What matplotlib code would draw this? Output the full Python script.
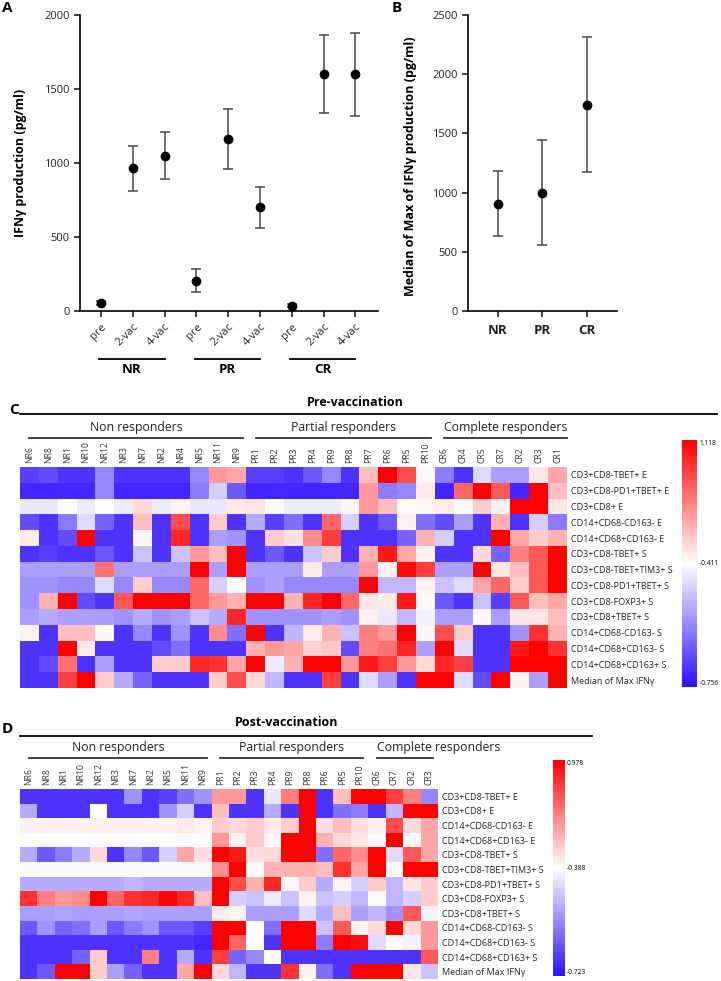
import numpy as np
import matplotlib
matplotlib.use("Agg")
import matplotlib.pyplot as plt
import matplotlib.transforms as mtransforms
from matplotlib.colors import LinearSegmentedColormap
from matplotlib.lines import Line2D

plt.rcParams['font.family'] = ['Open Sans', 'DejaVu Sans']

# ─────────────────────────────────────────────
# DATA: panel A (IFNg per time point and group)
# ─────────────────────────────────────────────
A_GROUPS = ['NR', 'PR', 'CR']
A_TIMES  = ['pre', '2-vac', '4-vac'] * 3
A_MEAN   = [52, 964, 1047, 205, 1162, 700, 34, 1601, 1601]
A_LOW    = [38, 813, 892, 130, 962, 559, 24, 1336, 1318]
A_HIGH   = [66, 1117, 1207, 282, 1363, 840, 44, 1867, 1880]

# ─────────────────────────────────────────────
# DATA: panel B (median of max IFNg)
# ─────────────────────────────────────────────
B_GROUPS = ['NR', 'PR', 'CR']
B_MED    = [904, 1000, 1743]
B_LOW    = [631, 555, 1174]
B_HIGH   = [1180, 1444, 2314]

# ─────────────────────────────────────────────
# DATA: panel C heatmap (pre-vaccination), colour level -1..1
# ─────────────────────────────────────────────
PRE_COLS = ['NR6', 'NR8', 'NR1', 'NR10', 'NR12', 'NR3', 'NR7', 'NR2', 'NR4', 'NR5', 'NR11', 'NR9',
            'PR1', 'PR2', 'PR3', 'PR4', 'PR9', 'PR8', 'PR7', 'PR6', 'PR5', 'PR10',
            'CR6', 'CR4', 'CR5', 'CR7', 'CR2', 'CR3', 'CR1']
PRE_ROWS = ['CD3+CD8-TBET+ E', 'CD3+CD8-PD1+TBET+ E', 'CD3+CD8+ E', 'CD14+CD68-CD163- E',
            'CD14+CD68+CD163- E', 'CD3+CD8-TBET+ S', 'CD3+CD8-TBET+TIM3+ S',
            'CD3+CD8-PD1+TBET+ S', 'CD3+CD8-FOXP3+ S', 'CD3+CD8+TBET+ S',
            'CD14+CD68-CD163- S', 'CD14+CD68+CD163- S', 'CD14+CD68+CD163+ S',
            'Median of Max IFNγ']
PRE_LEVELS = [
    [-0.8, -0.75, -0.85, -0.85, -0.5, -0.85, -0.85, -0.85, -0.85, -0.5, 0.4, 0.35,
     -0.8, -0.8, -0.85, -0.7, -0.5, -0.85, 0.25, 1.0, 0.7, 0.03,
     -0.55, -0.85, -0.15, -0.4, -0.4, 0.1, 0.35],
    [-0.9, -0.9, -0.9, -0.9, -0.5, -0.9, -0.9, -0.9, -0.9, -0.55, -0.2, -0.7,
     -0.9, -0.9, -0.9, -0.9, -0.9, -0.9, 0.4, -0.55, -0.5, 0.08,
     -0.9, 0.6, 1.0, 0.65, -0.9, 1.0, 0.25],
    [-0.1, -0.1, 0.0, -0.08, 0.0, -0.08, 0.15, -0.08, 0.05, -0.1, -0.1, 0.08,
     0.1, 0.02, -0.08, -0.08, -0.08, 0.03, 0.4, 0.25, 0.02, 0.03,
     0.08, 0.02, 0.2, 0.05, 1.0, 1.0, 0.1],
    [-0.75, -0.85, -0.55, -0.15, -0.65, -0.85, 0.25, -0.85, 0.7, -0.85, 0.2, -0.85,
     -0.35, -0.8, -0.6, -0.85, 0.6, -0.2, -0.85, -0.7, 0.05, -0.6,
     -0.75, -0.4, -0.85, 0.3, -0.85, -0.2, -0.55],
    [0.08, -0.85, -0.75, 1.0, -0.85, -0.85, 0.03, -0.85, 0.85, -0.85, -0.4, -0.45,
     -0.85, 0.2, 0.12, 0.45, 0.75, -0.85, -0.85, -0.85, -0.65, 0.3,
     -0.2, -0.85, -0.85, 1.0, 0.35, 0.2, 0.3],
    [-0.85, -0.8, -0.85, -0.85, -0.7, -0.85, -0.25, -0.85, -0.25, 0.4, 0.25, 1.0,
     -0.85, -0.7, -0.85, -0.25, 0.2, -0.85, 0.3, 0.9, 0.35, 0.05,
     -0.85, -0.85, 0.15, -0.65, 0.5, 0.65, 1.0],
    [-0.4, -0.4, -0.4, -0.4, 0.55, -0.4, -0.4, -0.4, -0.4, 1.0, -0.4, 1.0,
     -0.4, -0.4, -0.4, 0.08, -0.4, -0.4, 0.4, 0.05, 0.95, 0.75,
     -0.4, -0.4, 1.0, 0.1, 0.25, 0.65, 1.0],
    [-0.45, -0.45, -0.5, -0.5, -0.15, -0.5, 0.2, -0.5, -0.5, 0.6, -0.2, 0.0,
     -0.45, -0.4, -0.5, -0.5, -0.5, -0.5, 1.0, -0.3, -0.3, 0.05,
     -0.25, -0.15, 0.35, 0.6, 0.2, 0.65, 1.0],
    [-0.45, 0.3, 1.0, -0.75, -0.85, 0.65, 1.0, 1.0, 1.0, 0.6, 0.4, 0.3,
     1.0, 1.0, 0.3, 0.85, 1.0, 0.6, 0.1, 0.08, 0.9, 0.03,
     -0.7, -0.85, -0.25, -0.8, 0.65, 0.25, 0.35],
    [-0.4, -0.35, -0.4, -0.4, -0.4, -0.45, -0.35, -0.45, -0.4, -0.25, -0.35, 0.85,
     -0.45, -0.45, -0.45, -0.45, -0.4, -0.45, 0.05, -0.1, -0.3, -0.05,
     -0.4, -0.4, 0.03, -0.4, 0.1, 0.1, 0.25],
    [0.05, -0.85, 0.25, 0.25, 0.03, -0.85, -0.5, -0.85, -0.45, -0.85, 0.45, -0.6,
     1.0, -0.85, -0.3, 0.08, 0.3, -0.25, 0.5, 0.4, 1.0, 0.03,
     0.7, 0.2, -0.85, -0.85, -0.45, 0.8, 0.3],
    [-0.85, -0.85, 1.0, 0.08, -0.85, -0.85, -0.85, -0.75, -0.6, -0.85, -0.85, -0.85,
     0.3, 0.4, 0.35, 0.18, 0.22, -0.75, 0.5, 0.55, 0.85, -0.4,
     1.0, -0.15, -0.85, -0.85, 0.9, 1.0, 0.8],
    [-0.85, -0.75, 0.55, -0.85, -0.4, -0.85, -0.85, 0.2, 0.2, 0.85, 0.8, 0.35,
     1.0, -0.08, 0.3, 1.0, 1.0, 0.4, 0.9, 0.75, 0.4, 0.15,
     0.85, 0.75, -0.85, -0.85, 1.0, 1.0, 1.0],
    [-0.85, -0.85, 0.75, 1.0, 0.2, -0.35, -0.65, -0.85, -0.85, -0.85, 0.2, 0.7,
     0.15, -0.3, -0.85, -0.85, 0.75, -0.85, -0.15, -0.4, -0.85, 1.0,
     1.0, -0.15, -0.75, 1.0, 0.05, -0.4, 1.0],
]
PRE_CBAR = ['-0.756', '-0.411', '1.118']

# ─────────────────────────────────────────────
# DATA: panel D heatmap (post-vaccination), colour level -1..1
# ─────────────────────────────────────────────
POST_COLS = ['NR6', 'NR8', 'NR1', 'NR10', 'NR12', 'NR3', 'NR7', 'NR2', 'NR5', 'NR11', 'NR9',
             'PR1', 'PR2', 'PR3', 'PR4', 'PR9', 'PR8', 'PR6', 'PR5', 'PR10',
             'CR6', 'CR7', 'CR2', 'CR3']
POST_ROWS = ['CD3+CD8-TBET+ E', 'CD3+CD8+ E', 'CD14+CD68-CD163- E', 'CD14+CD68+CD163- E',
             'CD3+CD8-TBET+ S', 'CD3+CD8-TBET+TIM3+ S', 'CD3+CD8-PD1+TBET+ S',
             'CD3+CD8-FOXP3+ S', 'CD3+CD8+TBET+ S', 'CD14+CD68-CD163- S',
             'CD14+CD68+CD163- S', 'CD14+CD68+CD163+ S', 'Median of Max IFNγ']
POST_LEVELS = [
    [-0.85, -0.85, -0.85, -0.85, -0.85, -0.85, -0.45, -0.85, -0.8, -0.6, -0.45,
     0.4, 0.4, -0.85, -0.1, 0.5, 1.0, -0.85, 0.25, 1.0,
     1.0, 0.75, 0.5, -0.5],
    [-0.35, -0.85, -0.85, -0.85, 0.0, -0.85, -0.85, -0.85, -0.45, -0.2, -0.85,
     0.25, -0.85, -0.85, -0.35, -0.85, 1.0, -0.85, -0.6, -0.55,
     -0.85, -0.3, 1.0, 1.0],
    [0.06, 0.06, 0.06, 0.06, 0.06, 0.06, 0.06, 0.06, 0.06, 0.08, 0.05,
     0.2, 0.15, 0.2, 0.08, 0.2, 1.0, 0.12, 0.25, 0.12,
     0.06, 0.7, 0.15, 0.35],
    [-0.02, -0.02, -0.02, -0.02, -0.02, -0.02, -0.02, -0.02, -0.02, -0.02, -0.02,
     0.4, 0.05, 0.2, 0.03, 1.0, 1.0, 0.3, 0.15, 0.1,
     0.03, 1.0, 0.03, 0.35],
    [-0.35, -0.7, -0.55, -0.35, 0.15, -0.85, -0.5, -0.7, -0.2, 0.35, 0.12,
     1.0, 0.9, 0.12, 0.15, 1.0, 1.0, -0.6, 0.6, 0.45,
     1.0, -0.15, 0.65, 0.35],
    [-0.02, -0.02, -0.02, -0.02, -0.02, -0.02, -0.02, -0.02, -0.02, -0.02, -0.02,
     0.45, 1.0, 0.02, 0.3, 0.3, 0.3, 0.25, 0.8, 0.35,
     1.0, 0.02, 1.0, 1.0],
    [-0.35, -0.35, -0.35, -0.35, -0.35, -0.35, -0.3, -0.35, -0.35, -0.35, -0.35,
     1.0, 0.7, 0.3, 0.85, 0.03, 0.2, -0.35, 0.05, -0.2,
     0.2, -0.3, 0.1, 0.2],
    [0.8, 0.5, 0.4, 0.45, 1.0, 0.6, 0.8, 0.85, 1.0, 0.85, 0.25,
     1.0, -0.2, -0.25, -0.08, -0.25, 0.05, -0.25, -0.2, -0.3,
     0.02, -0.3, -0.2, 0.2],
    [-0.4, -0.4, -0.38, -0.4, -0.4, -0.4, -0.38, -0.4, -0.4, -0.4, -0.4,
     0.08, 0.05, -0.4, -0.4, -0.4, -0.15, -0.35, 0.25, -0.4,
     -0.3, -0.45, 0.65, -0.05],
    [-0.7, -0.45, -0.65, -0.6, -0.4, -0.7, -0.55, -0.45, -0.7, -0.7, -0.8,
     1.0, 1.0, 0.0, -0.6, 1.0, 1.0, -0.25, 0.65, 0.05,
     0.15, 1.0, 0.15, 0.4],
    [-0.85, -0.85, -0.85, -0.85, -0.85, -0.85, -0.85, -0.85, -0.85, -0.85, -0.9,
     1.0, 0.6, 0.0, -0.85, 1.0, 1.0, -0.55, 1.0, 0.95,
     -0.15, 0.0, -0.05, 0.4],
    [-0.85, -0.85, -0.85, -0.65, 0.2, -0.85, -0.85, 0.5, -0.85, -0.35, -0.85,
     0.75, -0.65, -0.5, 0.02, -0.85, -0.85, -0.85, -0.85, -0.85,
     -0.85, -0.85, -0.85, 0.65],
    [-0.85, -0.7, 1.0, 1.0, 0.2, -0.4, -0.65, -0.85, -0.85, 0.35, 1.0,
     0.15, -0.3, -0.85, -0.85, 0.8, 0.05, -0.6, -0.85, 1.0,
     1.0, 1.0, 0.1, -0.25],
]
POST_CBAR = ['-0.723', '-0.388', '0.978']

# ─────────────────────────────────────────────
# FIGURE SETUP
# ─────────────────────────────────────────────
W, H = 721, 981
fig = plt.figure(figsize=(W / 100, H / 100), dpi=100)
CMAP = LinearSegmentedColormap.from_list('bwr_fig', ['#3010ff', '#ffffff', '#ff0000'])


def box(left, top, right, bottom):
    """pixel box (origin top-left) -> figure rect"""
    return [left / W, 1 - bottom / H, (right - left) / W, (bottom - top) / H]


def fig_text(x, y, s, **kw):
    fig.text(x / W, 1 - y / H, s, **kw)


def fig_line(x0, x1, y, lw=1.3, color='black'):
    fig.add_artist(Line2D([x0 / W, x1 / W], [1 - y / H, 1 - y / H],
                          color=color, lw=lw, transform=fig.transFigure))


def style_scatter_axis(ax):
    for s in ['top', 'right']:
        ax.spines[s].set_visible(False)
    for s in ['left', 'bottom']:
        ax.spines[s].set_linewidth(1.2)
    ax.tick_params(direction='out', length=4, width=1.2, labelsize=8, colors='#222222')


# ─────────────────────────────────────────────
# PANEL A
# ─────────────────────────────────────────────
axA = fig.add_axes(box(80, 15, 378, 311))
xa = np.arange(len(A_MEAN))
mean = np.array(A_MEAN)
yerr = [mean - np.array(A_LOW), np.array(A_HIGH) - mean]
axA.errorbar(xa, mean, yerr=yerr, fmt='o', color='black', ecolor='#555555',
             elinewidth=1.2, capsize=3.6, capthick=1.2, markersize=6)
axA.set_xlim(-0.66, 8.71)
axA.set_ylim(0, 2000)
axA.set_yticks([0, 500, 1000, 1500, 2000])
axA.set_xticks(xa)
axA.set_xticklabels(A_TIMES, rotation=45, ha='right', rotation_mode='anchor')
style_scatter_axis(axA)
axA.set_ylabel('IFNγ production (pg/ml)', fontsize=9, fontweight='bold')
axA.yaxis.set_label_coords(-0.178, 0.5)

trA = mtransforms.blended_transform_factory(axA.transData, axA.transAxes)
for g, name in enumerate(A_GROUPS):
    axA.plot([g * 3 - 0.05, g * 3 + 2.0], [-0.162, -0.162], color='black', lw=1.3,
             transform=trA, clip_on=False)
    axA.text(g * 3 + 0.97, -0.176, name, transform=trA, ha='center', va='top',
             fontsize=9.5, fontweight='bold')

# ─────────────────────────────────────────────
# PANEL B
# ─────────────────────────────────────────────
axB = fig.add_axes(box(468, 15, 617, 311))
xb = np.arange(len(B_MED))
med = np.array(B_MED)
yerrb = [med - np.array(B_LOW), np.array(B_HIGH) - med]
axB.errorbar(xb, med, yerr=yerrb, fmt='o', color='black', ecolor='#555555',
             elinewidth=1.2, capsize=3.6, capthick=1.2, markersize=6)
axB.set_xlim(-0.67, 2.68)
axB.set_ylim(0, 2500)
axB.set_yticks([0, 500, 1000, 1500, 2000, 2500])
axB.set_xticks(xb)
axB.set_xticklabels(B_GROUPS, fontsize=9.5, fontweight='bold')
style_scatter_axis(axB)
axB.tick_params(axis='x', labelsize=9.5, pad=5)
axB.set_ylabel('Median of Max of IFNγ production (pg/ml)', fontsize=9, fontweight='bold')
axB.yaxis.set_label_coords(-0.342, 0.49)

fig_text(2, 1, 'A', fontsize=11, fontweight='bold', va='top')
fig_text(392, 1, 'B', fontsize=11, fontweight='bold', va='top')


# ─────────────────────────────────────────────
# HEATMAP HELPER
# ─────────────────────────────────────────────
def draw_heatmap(rect, cbar_rect, levels, cols, rows, cbar_labels, groups,
                 line_y, text_y, cr_left=False):
    ax = fig.add_axes(rect)
    im = ax.imshow(np.array(levels), cmap=CMAP, vmin=-1, vmax=1,
                   aspect='auto', interpolation='nearest')
    ax.set_xticks(np.arange(len(cols)))
    ax.set_xticklabels(cols, rotation=90, fontsize=6.2, color='#333333')
    ax.xaxis.tick_top()
    ax.set_yticks(np.arange(len(rows)))
    ax.set_yticklabels(rows, fontsize=6.5, color='#222222')
    ax.yaxis.tick_right()
    ax.tick_params(length=0, pad=3)
    for s in ax.spines.values():
        s.set_visible(False)

    tr = mtransforms.blended_transform_factory(ax.transData, ax.transAxes)
    for i, (name, c0, c1, ext) in enumerate(groups):
        ax.plot([c0, c1 + ext], [line_y, line_y], color='#333333', lw=1.3,
                transform=tr, clip_on=False)
        if cr_left and i == len(groups) - 1:
            ax.text(c0, text_y, name, transform=tr, ha='left', va='center',
                    fontsize=8.8, color='#222222')
        else:
            ax.text((c0 + c1 + ext) / 2, text_y, name, transform=tr, ha='center',
                    va='center', fontsize=8.8, color='#222222')

    cax = fig.add_axes(cbar_rect)
    cb = fig.colorbar(im, cax=cax, ticks=[])
    cb.outline.set_visible(False)
    cax.text(1.15, 0.0, cbar_labels[0], transform=cax.transAxes, va='bottom', fontsize=4.8)
    cax.text(1.15, 0.5, cbar_labels[1], transform=cax.transAxes, va='center', fontsize=4.8)
    cax.text(1.15, 1.0, cbar_labels[2], transform=cax.transAxes, va='top', fontsize=4.8)
    return ax


# ─────────────────────────────────────────────
# PANEL C: pre-vaccination
# ─────────────────────────────────────────────
draw_heatmap(box(20, 467, 567, 688), box(682, 440, 697, 687),
             PRE_LEVELS, PRE_COLS, PRE_ROWS, PRE_CBAR,
             [('Non responders', 0, 11, 0.3), ('Partial responders', 12, 21, 0.3),
              ('Complete responders', 22, 28, 0.5)],
             line_y=1.132, text_y=1.18)
fig_text(9, 410, 'C', fontsize=11, fontweight='bold', va='center')
fig_line(20, 717, 414)
fig_text(355, 402, 'Pre-vaccination', fontsize=9, fontweight='bold', ha='center', va='center')

# ─────────────────────────────────────────────
# PANEL D: post-vaccination
# ─────────────────────────────────────────────
draw_heatmap(box(20, 789, 438, 979), box(553, 760, 565, 976),
             POST_LEVELS, POST_COLS, POST_ROWS, POST_CBAR,
             [('Non responders', 0, 10, 0.25), ('Partial responders', 11, 19, 0.2),
              ('Complete responders', 20, 23, 0.2)],
             line_y=1.163, text_y=1.218, cr_left=True)
fig_text(2, 729, 'D', fontsize=11, fontweight='bold', va='center')
fig_line(20, 592, 736)
fig_text(287, 723, 'Post-vaccination', fontsize=9, fontweight='bold', ha='center', va='center')

fig.savefig('out.png', dpi=100)
